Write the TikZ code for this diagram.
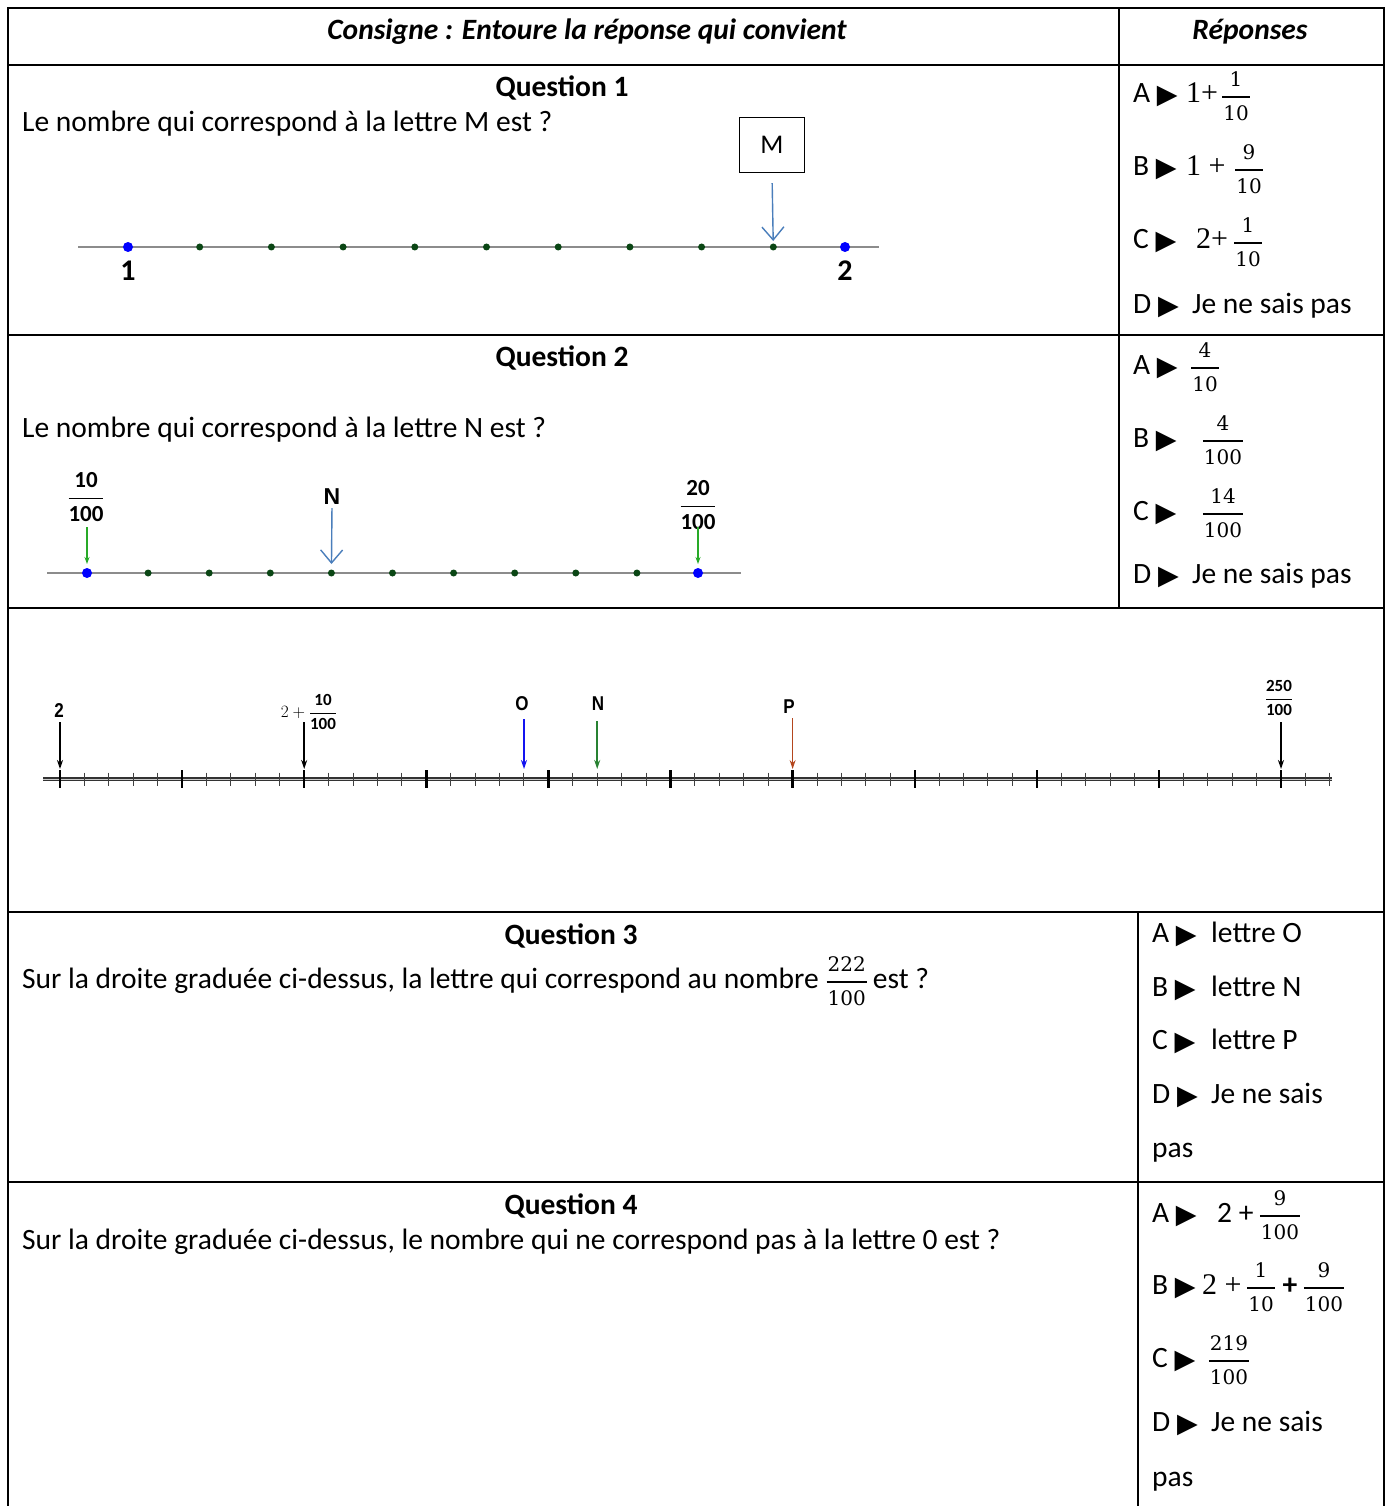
\documentclass[tikz,border=0pt]{standalone}
\usepackage{amsmath}
\usepackage{fontspec}
\setmainfont{Carlito}
\newfontfamily\dejavu{DejaVu Sans}
\newfontfamily\dserif{DejaVu Serif}
\newfontfamily\lserif{Liberation Serif}
\newfontfamily\lsans{Liberation Sans}
\usetikzlibrary{arrows.meta}
\definecolor{mblue}{RGB}{74,126,187}
\definecolor{dotgreen}{RGB}{10,70,20}
\definecolor{arrgreen}{RGB}{40,170,40}
\definecolor{oblue}{RGB}{20,20,240}
\definecolor{ngreen}{RGB}{40,130,50}
\definecolor{pbrown}{RGB}{180,70,30}
\newcommand{\tri}{\raisebox{-1pt}{\dejavu\fontsize{27}{27}\selectfont ▶}}
\newcommand{\frd}{\dserif\fontsize{20}{20}\selectfont}
\newcommand{\fr}[2]{{\fontsize{24}{24}\selectfont$\genfrac{}{}{2.4pt}{0}{\hbox{\frd\kern1pt #1\kern1pt}}{\hbox{\frd\kern1pt #2\kern1pt}}$}}
\newcommand{\mo}[1]{{\lserif\fontsize{30}{30}\selectfont #1}}
\begin{document}
\begin{tikzpicture}[x=1pt,y=-1pt,
  grid/.style={line width=2.2pt, line cap=rect},
  body/.style={anchor=west, inner sep=0pt, yshift=-2pt, font=\fontsize{29.5}{34}\selectfont},
  head/.style={inner sep=0pt, yshift=-2pt, font=\fontsize{29.5}{34}\selectfont\bfseries\itshape},
  qtitle/.style={inner sep=0pt, yshift=-2pt, font=\fontsize{29.5}{34}\selectfont\bfseries},
  ans/.style={anchor=base west, inner sep=0pt, font=\fontsize{29.5}{34}\selectfont},
  frc/.style={anchor=base, inner sep=0pt, font=\fontsize{29.5}{34}\selectfont},
  axis1/.style={draw=gray!90, line width=1.3pt},
  bdot/.style={circle, fill=blue, inner sep=0pt, minimum size=10pt},
  gdot/.style={circle, fill=dotgreen, inner sep=0pt, minimum size=7pt},
  vlab/.style={inner sep=0pt, font=\fontsize{30}{30}\selectfont\bfseries},
  openarr/.style={draw=mblue, line width=1.4pt, -{Straight Barb[length=13pt,width=22pt,line width=1.4pt]}},
  garr/.style={draw=arrgreen, line width=1.1pt, -{Stealth[length=7pt,width=5pt]}},
  bigarr/.style={line width=1.6pt, -{Stealth[length=9pt,width=6pt]}},
  nlab/.style={inner sep=0pt, font=\lsans\bfseries\fontsize{20}{20}\selectfont, xscale=0.85},
  major/.style={line width=2.4pt},
  minor/.style={line width=1pt, draw=black!75}
]
\useasboundingbox (0,0) rectangle (1389,1506);
\fill[white] (0,0) rectangle (1389,1506);

% ---------- table grid ----------
\draw[grid] (8,1506) -- (8,8) -- (1384,8) -- (1384,1506);
\foreach \yy in {65,335,608,912,1182} \draw[grid] (8,\yy) -- (1384,\yy);
\draw[grid] (1119,8) -- (1119,608);
\draw[grid] (1138,912) -- (1138,1506);

% ---------- header ----------
\node[head] (h1) at (587,30) {Consigne : Entoure la réponse qui convient};
\node[head] (h2) at (1250,30) {Réponses};

% ---------- Question 1 ----------
\node[qtitle] (q1) at (562,86) {Question 1};
\node[body] (q1t) at (22,122) {Le nombre qui correspond à la lettre M est ?};
\draw[axis1] (78,247) -- (879,247);
\node[bdot] (p10) at (128,247) {};
\node[bdot] (p20) at (845,247) {};
\foreach \i in {1,...,9} \node[gdot] (p1\i) at ({128+71.7*\i},247) {};
\node[vlab] (l1) at (128,271) {1};
\node[vlab] (l2) at (845,271) {2};
\node[draw, line width=1.4pt, minimum width=65pt, minimum height=55pt, inner sep=0pt, font=\fontsize{27}{27}\selectfont] (Mbox) at (772,145) {M};
\draw[openarr, shorten <=10pt, shorten >=6pt] (Mbox.south) -- (p19.center);

\node[ans] (a1A) at (1133,103) {A \tri};
\node[ans] (a1Ao) at (1186,103) {\mo{1+}};
\node[frc] (a1Af) at (1236,103) {\fr{1}{10}};
\node[ans] (a1B) at (1133,176) {B \tri};
\node[ans] (a1Bo) at (1186,176) {\mo{1 +}};
\node[frc] (a1Bf) at (1249,176) {\fr{9}{10}};
\node[ans] (a1C) at (1133,249) {C \tri};
\node[ans] (a1Co) at (1196,249) {\mo{2+}};
\node[frc] (a1Cf) at (1248,249) {\fr{1}{10}};
\node[ans] (a1D) at (1133,313) {D \tri};
\node[ans] (a1Dt) at (1192,313) {Je ne sais pas};

% ---------- Question 2 ----------
\node[qtitle] (q2) at (562,356) {Question 2};
\node[body] (q2t) at (22,428) {Le nombre qui correspond à la lettre N est ?};
\draw[axis1] (47,573) -- (741,573);
\node[bdot] (r10) at (87,573) {};
\node[bdot] (r20) at (698,573) {};
\foreach \i in {1,...,9} \node[gdot] (r1\i) at ({87+61.1*\i},573) {};
\node[inner sep=0pt, font=\fontsize{23}{23}\selectfont] (f10) at (86,497) {$\dfrac{\mathbf{10}}{\mathbf{100}}$};
\node[inner sep=0pt, font=\fontsize{23}{23}\selectfont] (f20) at (698,505) {$\dfrac{\mathbf{20}}{\mathbf{100}}$};
\node[inner sep=0pt, font=\lsans\bfseries\fontsize{23}{23}\selectfont] (Nq) at (332,497) {N};
\coordinate (g1s) at (87,527);
\coordinate (g2s) at (698,527);
\draw[garr, shorten >=9pt] (g1s) -- (r10.center);
\draw[garr, shorten >=9pt] (g2s) -- (r20.center);
\draw[openarr, shorten <=3pt, shorten >=9pt] (Nq.south) -- (r14.center);

\node[ans] (a2A) at (1133,374) {A \tri};
\node[frc] (a2Af) at (1205,374) {\fr{4}{10}};
\node[ans] (a2B) at (1133,447) {B \tri};
\node[frc] (a2Bf) at (1223,447) {\fr{4}{100}};
\node[ans] (a2C) at (1133,520) {C \tri};
\node[frc] (a2Cf) at (1223,520) {\fr{14}{100}};
\node[ans] (a2D) at (1133,583) {D \tri};
\node[ans] (a2Dt) at (1192,583) {Je ne sais pas};

% ---------- big number line ----------
\draw[line width=3.4pt, black!80] (43,779) -- (1332,779);
\draw[line width=0.8pt, white!60!gray] (43,779) -- (1332,779);
\foreach \k in {0,...,52} {
  \pgfmathsetmacro{\xx}{60+24.42*\k}
  \pgfmathtruncatemacro{\mm}{mod(\k,5)}
  \ifnum\mm=0
    \draw[major] (\xx,770) -- (\xx,788);
  \else
    \draw[minor] (\xx,772.5) -- (\xx,785.5);
  \fi
}
\coordinate (t0) at (60,779);
\coordinate (t10) at (304.2,779);
\coordinate (t19) at (524,779);
\coordinate (t22) at (597.2,779);
\coordinate (t30) at (792.6,779);
\coordinate (t50) at (1281,779);
\node[nlab] (L2) at (59,711) {2};
\node[inner sep=0pt, font=\fontsize{17}{17}\selectfont] (L210) at (309,712) {$2+\dfrac{\mathbf{10}}{\mathbf{100}}$};
\node[nlab] (LO) at (522,704) {O};
\node[nlab] (LN) at (598,704) {N};
\node[nlab] (LP) at (789,707) {P};
\node[inner sep=0pt, font=\fontsize{17}{17}\selectfont] (L250) at (1279,698) {$\dfrac{\mathbf{250}}{\mathbf{100}}$};
\coordinate (s0) at (60,722);
\coordinate (s10) at (304.2,722);
\coordinate (s19) at (524,719);
\coordinate (s22) at (597.2,721);
\coordinate (s30) at (792.6,718);
\coordinate (s50) at (1281,722);
\draw[bigarr, shorten >=10pt] (s0) -- (t0);
\draw[bigarr, shorten >=10pt] (s10) -- (t10);
\draw[bigarr, oblue, shorten >=10pt] (s19) -- (t19);
\draw[bigarr, ngreen, shorten >=10pt] (s22) -- (t22);
\draw[bigarr, pbrown, line width=1.2pt, shorten >=10pt] (s30) -- (t30);
\draw[bigarr, shorten >=10pt] (s50) -- (t50);

% ---------- Question 3 ----------
\node[qtitle] (q3) at (571,934) {Question 3};
\node[ans] (q3t) at (22,988) {Sur la droite graduée ci-dessus, la lettre qui correspond au nombre \fr{222}{100}\,est ?};
\node[ans] (a3A) at (1152,942) {A \tri};
\node[ans] (a3At) at (1211,942) {lettre O};
\node[ans] (a3B) at (1152,996) {B \tri};
\node[ans] (a3Bt) at (1211,996) {lettre N};
\node[ans] (a3C) at (1152,1049) {C \tri};
\node[ans] (a3Ct) at (1211,1049) {lettre P};
\node[ans] (a3D) at (1152,1103) {D \tri};
\node[ans] (a3Dt) at (1211,1103) {Je ne sais};
\node[ans] (a3E) at (1152,1157) {pas};

% ---------- Question 4 ----------
\node[qtitle] (q4) at (571,1204) {Question 4};
\node[body] (q4t) at (22,1240) {Sur la droite graduée ci-dessus, le nombre qui ne correspond pas à la lettre 0 est ?};
\node[ans] (a4A) at (1152,1222) {A \tri};
\node[ans] (a4Ao) at (1217,1222) {2 +};
\node[frc] (a4Af) at (1280,1222) {\fr{9}{100}};
\node[ans] (a4B) at (1152,1294) {B \tri};
\node[ans] (a4Bo) at (1202,1294) {\mo{2 +}};
\node[frc] (a4Bf) at (1261,1294) {\fr{1}{10}};
\node[frc] (a4Bp) at (1290,1294) {\textbf{+}};
\node[frc] (a4Bg) at (1324,1294) {\fr{9}{100}};
\node[ans] (a4C) at (1152,1367) {C \tri};
\node[frc] (a4Cf) at (1229,1367) {\fr{219}{100}};
\node[ans] (a4D) at (1152,1431) {D \tri};
\node[ans] (a4Dt) at (1211,1431) {Je ne sais};
\node[ans] (a4E) at (1152,1486) {pas};
\end{tikzpicture}
\end{document}
